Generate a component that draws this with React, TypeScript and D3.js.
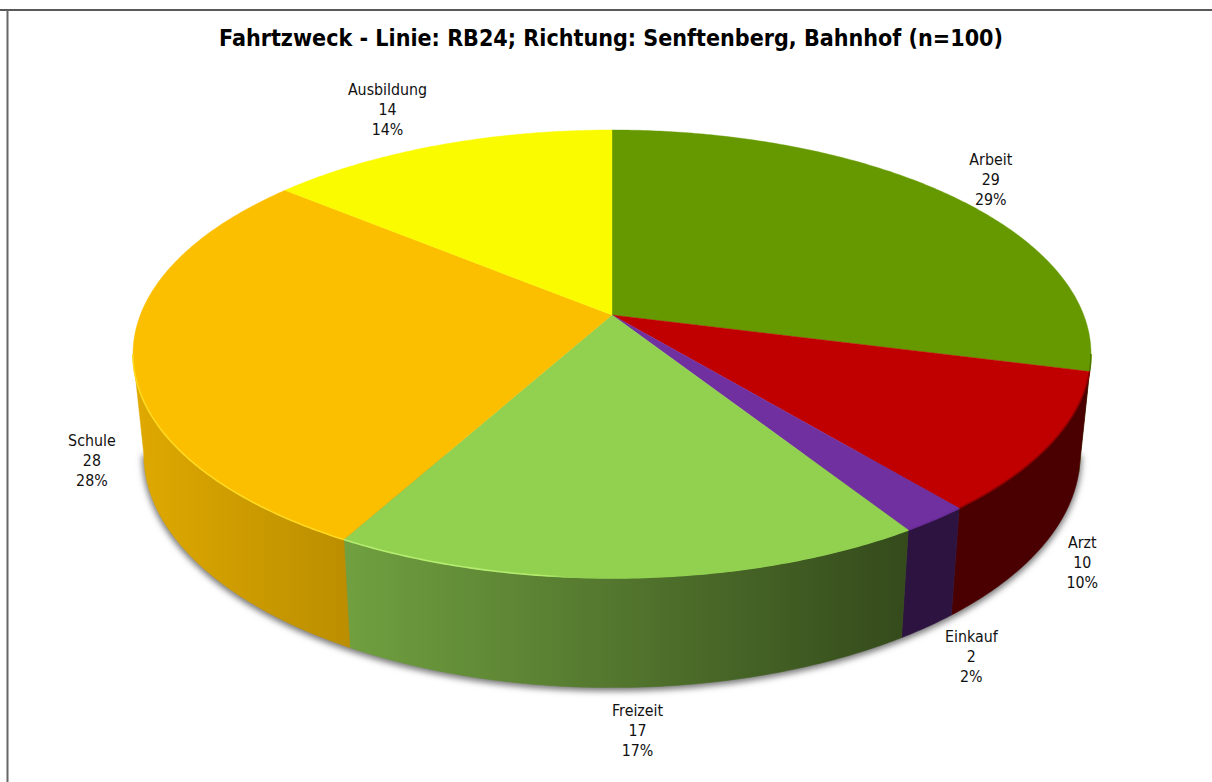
import React from "react";
import * as d3 from "d3";

const TITLE = "Fahrtzweck - Linie: RB24; Richtung: Senftenberg, Bahnhof (n=100)";
const categories = ["Arbeit", "Arzt", "Einkauf", "Freizeit", "Schule", "Ausbildung"];
const values = [29, 10, 2, 17, 28, 14];

const topColors = ["#669900", "#C00000", "#7030A0", "#92D050", "#FCBF00", "#FBFB00"];
const rimColors = ["#4c7300", "#8a0000", "#6a2c98", "#B4EC70", "#FFD820", "#FBFB00"];
const sideFrom = ["#3d5c00", "#4A0000", "#2C1340", "#70A040", "#DFA900", "#000000"];
const sideTo = ["#3d5c00", "#4A0000", "#2C1340", "#344A1B", "#BB8E00", "#000000"];
// share of each front rim that carries the highlight before it fades into the top colour
const rimFade = [1, 1, 1, 0.35, 1, 1];
// label offset from the rim point at the middle of each slice
const labelDx = [42, 41, 44, 8, -52, -51];
const labelDy = [-15, 15, 30, 43, 3, -36];

const W = 1212;
const H = 782;
const CX = 612;
const K = 0.174;
const TOP = { a: 471.7, b: 217.2, y: 315 };
const BOT = { a: 461, b: 226, y: 414 };
const FRONT_START = Math.acos(-K);
const FRONT_END = 2 * Math.PI - FRONT_START;

type Rim = { a: number; b: number; y: number };
const project = (rim: Rim, t: number): [number, number] => {
  const X = Math.sin(t);
  const Y = -Math.cos(t);
  const d = 1 - K * Y;
  return [CX + (rim.a * X) / d, rim.y + (rim.b * Y) / d];
};
const samples = (t0: number, t1: number) => {
  const n = Math.max(2, Math.ceil(Math.abs(t1 - t0) / 0.01));
  return d3.range(n + 1).map((i) => t0 + ((t1 - t0) * i) / n);
};
const line = d3.line<[number, number]>();

const arcs = d3
  .pie<number>()
  .sort(null)
  .startAngle(0)
  .endAngle(2 * Math.PI)(values);

export default function App() {
  const total = d3.sum(values);
  const centre: [number, number] = [CX, TOP.y];
  const shadowShape = line(samples(FRONT_START, FRONT_END).map((t) => project(BOT, t))) + "Z";
  const sides = arcs
    .map((d, i) => {
      const t0 = Math.max(d.startAngle, FRONT_START);
      const t1 = Math.min(d.endAngle, FRONT_END);
      if (t1 <= t0) return null;
      const top = samples(t0, t1).map((t) => project(TOP, t));
      const bot = samples(t1, t0).map((t) => project(BOT, t));
      const xs = [...top, ...bot].map((p) => p[0]);
      return { i, t0, t1, d: line([...top, ...bot]) + "Z", x0: d3.min(xs)!, x1: d3.max(xs)! };
    })
    .filter(Boolean) as { i: number; t0: number; t1: number; d: string; x0: number; x1: number }[];

  return (
    <svg
      width={W}
      height={H}
      viewBox={`0 0 ${W} ${H}`}
      style={{ position: "absolute", left: 0, top: 0, background: "#fff" }}
    >
      <defs>
        <filter id="shadow" x="-5%" y="-5%" width="110%" height="110%">
          <feGaussianBlur stdDeviation="3" />
        </filter>
        <filter id="soft" x="-5%" y="-5%" width="110%" height="110%">
          <feGaussianBlur stdDeviation="0.6" />
        </filter>
        {sides.map((s) => (
          <linearGradient
            key={s.i}
            id={`side${s.i}`}
            gradientUnits="userSpaceOnUse"
            x1={s.x0}
            x2={s.x1}
            y1={0}
            y2={0}
          >
            <stop offset="0" stopColor={sideFrom[s.i]} />
            <stop offset="1" stopColor={sideTo[s.i]} />
          </linearGradient>
        ))}
        {sides.map((s) => (
          <linearGradient
            key={s.i}
            id={`rim${s.i}`}
            gradientUnits="userSpaceOnUse"
            x1={s.x0}
            x2={s.x1}
            y1={0}
            y2={0}
          >
            <stop offset={rimFade[s.i]} stopColor={rimColors[s.i]} />
            <stop offset={Math.min(1, rimFade[s.i] + 0.05)} stopColor={topColors[s.i]} />
          </linearGradient>
        ))}
      </defs>

      <line x1={0} x2={W} y1={10} y2={10} stroke="#222" strokeWidth={1.5} />
      <line x1={7.5} x2={7.5} y1={10} y2={H} stroke="#666" strokeWidth={2} />

      <text
        x={611}
        y={46}
        textAnchor="middle"
        fontFamily="'DejaVu Sans', sans-serif"
        fontWeight="bold"
        fontSize={23}
        textLength={784}
        lengthAdjust="spacingAndGlyphs"
        fill="#000"
      >
        {TITLE}
      </text>

      <path d={shadowShape} fill="#777" stroke="#777" strokeWidth={3} transform="translate(0,2)" filter="url(#shadow)" />

      {sides.map((s) => (
        <path key={s.i} d={s.d} fill={`url(#side${s.i})`} stroke={`url(#side${s.i})`} strokeWidth={0.5} />
      ))}

      {arcs.map((d, i) => (
        <path
          key={i}
          d={line([centre, ...samples(d.startAngle, d.endAngle).map((t) => project(TOP, t))]) + "Z"}
          fill={topColors[i]}
          stroke={topColors[i]}
          strokeWidth={0.4}
        />
      ))}

      {sides.map((s) => (
        <path
          key={s.i}
          d={line(samples(s.t0, s.t1).map((t) => project(TOP, t))) || ""}
          fill="none"
          stroke={`url(#rim${s.i})`}
          strokeWidth={1.6}
          filter="url(#soft)"
        />
      ))}

      {arcs.map((d, i) => {
        const mid = (d.startAngle + d.endAngle) / 2;
        const front = mid > FRONT_START && mid < FRONT_END;
        const [px, py] = project(front ? BOT : TOP, mid);
        const x = px + labelDx[i];
        const y = py + labelDy[i];
        const pct = d3.format(".0%")(d.value / total);
        return (
          <text
            key={categories[i]}
            transform={`translate(${x},0) scale(0.95,1)`}
            textAnchor="middle"
            fontFamily="'DejaVu Sans', sans-serif"
            fontSize={15}
            fill="#111"
          >
            {[categories[i], String(d.value), pct].map((t, j) => (
              <tspan key={j} x={0} y={y + (j - 1) * 20 + 5.5}>
                {t}
              </tspan>
            ))}
          </text>
        );
      })}
    </svg>
  );
}
